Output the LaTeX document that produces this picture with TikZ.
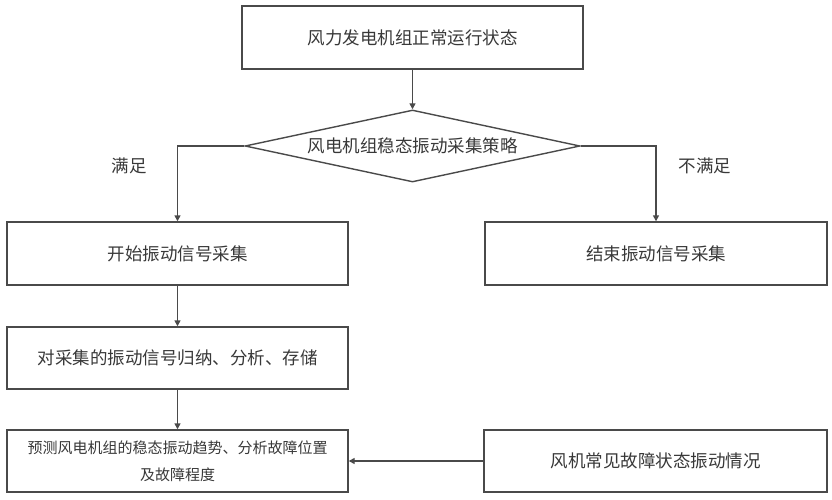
\documentclass[tikz,border=0pt]{standalone}
\usepackage{fontspec}
\newfontfamily\cjk{Noto Sans CJK SC}
\usetikzlibrary{shapes.geometric,arrows.meta}
\definecolor{ln}{HTML}{4A4A4A}
\definecolor{tx}{HTML}{383838}
\tikzset{
  box/.style={draw=ln, line width=1.4pt, rectangle, minimum width=341pt, minimum height=63pt, inner sep=0pt, font=\cjk\fontsize{17.5}{21}\selectfont, text=tx, align=center},
  dec/.style={draw=ln, line width=1.4pt, diamond, aspect=4.65, minimum width=335pt, minimum height=72pt, inner sep=0pt, font=\cjk\fontsize{17.5}{21}\selectfont, text=tx},
  conn/.style={draw=ln, line width=1.4pt, -{Triangle[length=6pt,width=6pt]}},
  lbl/.style={font=\cjk\fontsize{17.5}{21}\selectfont, text=tx, inner sep=0pt}
}
\begin{document}
\begin{tikzpicture}[x=1pt,y=-1pt]
\useasboundingbox (0,0) rectangle (832,500);
\node[box] (top) at (412.5,37.5) {风力发电机组正常运行状态};
\node[dec] (dia) at (412.5,146) {风电机组稳态振动采集策略};
\node[box] (start) at (177.5,253.5) {开始振动信号采集};
\node[box, minimum width=342pt] (stop) at (656,253.5) {结束振动信号采集};
\node[box, minimum height=62pt] (proc) at (177.5,358) {对采集的振动信号归纳、分析、存储};
\node[box, minimum height=62pt, font=\cjk\fontsize{15}{27}\selectfont] (pred) at (177.5,461) {预测风电机组的稳态振动趋势、分析故障位置\\及故障程度};
\node[box, minimum width=343pt, minimum height=62pt] (fault) at (655.5,461) {风机常见故障状态振动情况};
\node[lbl] (yes) at (129,166) {满足};
\node[lbl] (no) at (705,166) {不满足};
\draw[conn] (top.south) -- (dia.north);
\draw[conn] (dia.west) -| (start.north);
\draw[conn] (dia.east) -| (stop.north);
\draw[conn] (start.south) -- (proc.north);
\draw[conn] (proc.south) -- (pred.north);
\draw[conn] (fault.west) -- (pred.east);
\end{tikzpicture}
\end{document}
